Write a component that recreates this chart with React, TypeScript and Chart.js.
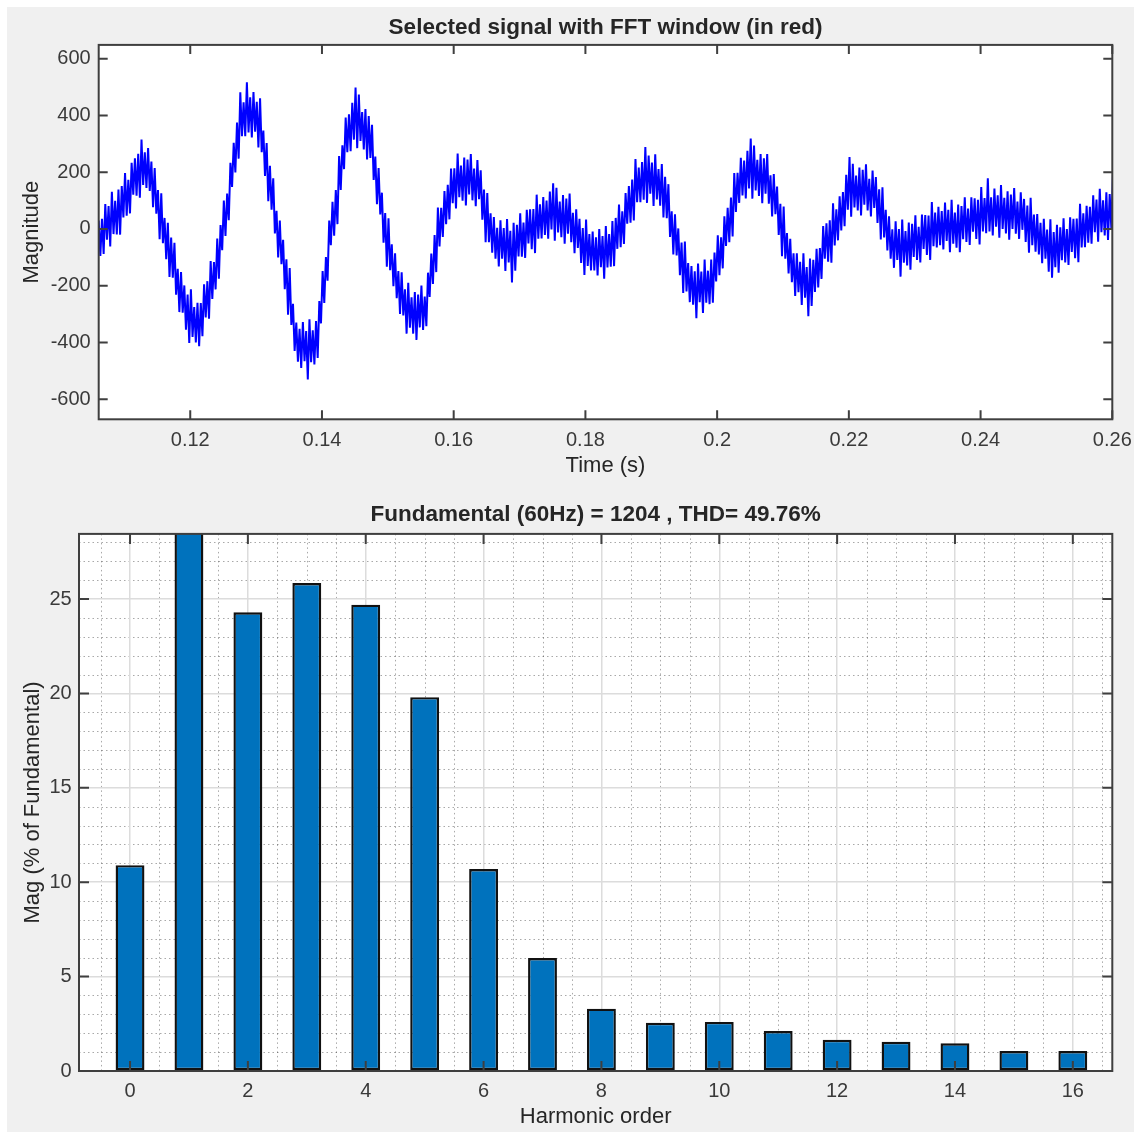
import { useEffect, useRef } from 'react';
import { Chart, registerables } from 'chart.js';

Chart.register(...registerables);

// ---------- Top chart: selected signal ----------
const signalStartTime = 0.1061; // s
const signalSampleStep = 0.00025; // s
const signalValues = [
  30, -95, 36, -88, 88, -38, 81, -62, 131, -18, 99, -19, 139, -20, 151, 41, 197, 47, 173, 55,
  233, 121, 249, 117, 265, 110, 315, 155, 270, 145, 285, 134, 238, 77, 215, 54, 137, -36, 126, -50,
  39, -107, 22, -169, -30, -172, -49, -232, -140, -293, -152, -295, -199, -355, -231, -402, -213, -381, -275, -400,
  -260, -413, -261, -378, -195, -312, -184, -316, -113, -247, -117, -213, -34, -175, 14, -75, 100, -25, 125, 31,
  233, 148, 304, 199, 375, 248, 482, 327, 447, 327, 517, 340, 464, 323, 483, 343, 448, 287, 461, 271,
  347, 187, 303, 98, 223, 68, 179, -16, 64, -100, 30, -124, -38, -212, -107, -302, -138, -338, -264, -430,
  -330, -468, -352, -490, -328, -466, -360, -531, -318, -470, -357, -478, -325, -455, -254, -333, -148, -261, -99, -182,
  30, -57, 96, -24, 137, 17, 257, 138, 295, 211, 393, 271, 404, 274, 445, 315, 499, 285, 474, 310,
  412, 280, 423, 245, 398, 250, 367, 173, 255, 87, 215, 51, 128, -48, 56, -133, 38, -145, -54, -202,
  -86, -244, -148, -300, -153, -305, -213, -369, -190, -348, -241, -369, -222, -391, -231, -347, -199, -356, -238, -343,
  -154, -240, -87, -194, -21, -152, 76, -62, 75, -28, 134, 17, 156, 34, 213, 91, 214, 72, 266, 112,
  224, 100, 252, 83, 245, 122, 264, 101, 213, 80, 243, 105, 207, 33, 139, -47, 127, -47, 55, -84,
  42, -105, 4, -132, 31, -105, 3, -148, 35, -118, -6, -189, 22, -147, 15, -97, 55, -98, 23, -102,
  68, -51, 69, -71, 70, -85, 121, -34, 87, -33, 113, -21, 100, -34, 132, -2, 161, -41, 145, -12,
  97, -29, 120, -52, 107, -17, 125, -47, 57, -85, 69, -67, 36, -120, 3, -162, 33, -130, -18, -146,
  -9, -146, -29, -164, 0, -135, -25, -175, 10, -136, -18, -133, 28, -131, 39, -70, 86, -64, 62, -53,
  127, 19, 151, 22, 174, 30, 247, 94, 217, 94, 236, 103, 289, 92, 259, 124, 234, 81, 263, 104,
  211, 82, 229, 41, 184, 38, 158, -28, 62, -90, 52, -93, 2, -163, -48, -226, -44, -220, -120, -258,
  -131, -267, -149, -315, -122, -258, -150, -296, -108, -260, -147, -265, -108, -260, -83, -185, -22, -163, -29, -139,
  45, -60, 75, -47, 111, -26, 197, 60, 198, 92, 251, 118, 241, 108, 276, 143, 319, 107, 294, 136,
  244, 116, 264, 91, 249, 124, 264, 89, 189, 44, 194, 52, 150, -21, 89, -96, 79, -105, -14, -157,
  -35, -188, -86, -236, -86, -223, -116, -268, -86, -242, -134, -308, -104, -271, -109, -222, -70, -206, -67, -176,
  10, -105, 20, -115, 31, -119, 91, -58, 69, -40, 115, -5, 130, 10, 191, 68, 254, 43, 230, 76,
  188, 65, 217, 48, 209, 86, 228, 65, 177, 44, 206, 74, 183, 21, 140, -37, 147, -30, 68, -76,
  45, -105, -1, -137, 27, -109, 0, -168, 33, -119, -7, -129, 23, -144, 18, -99, 48, -109, 8, -118,
  51, -70, 49, -92, 47, -109, 95, -61, 58, -65, 78, -57, 63, -72, 93, -42, 68, -82, 103, -52,
  58, -66, 86, -82, 81, -36, 112, -46, 72, -56, 112, -10, 108, -35, 103, -55, 148, -9, 109, -15,
  179, -9, 112, -23, 143, 8, 119, -31, 155, 0, 110, -16, 133, -38, 121, 0, 144, -17, 97, -35,
  129, -3, 106, -46, 83, -84, 110, -57, 51, -80, 53, -90, 22, -121, 36, -105, -2, -151, 34, -172,
  -11, -135, 15, -154, 6, -110, 38, -118, 0, -127, 41, -81, 36, -103, 37, -117, 89, -65, 55, -64,
  82, -48, 78, -52, 119, -11, 104, -45, 142, -11, 101, -23, 129, -39, 123, 4, 190,
];
const timeMin = 0.1061;
const timeMax = 0.26;
const timeTicks = [0.12, 0.14, 0.16, 0.18, 0.2, 0.22, 0.24, 0.26];
const magnitudeMin = -671;
const magnitudeMax = 649;
const magnitudeTicks = [-600, -400, -200, 0, 200, 400, 600];

// ---------- Bottom chart: harmonic spectrum ----------
const harmonicOrders = [0, 1, 2, 3, 4, 5, 6, 7, 8, 9, 10, 11, 12, 13, 14, 15, 16];
const harmonicMagnitudes = [
  10.9, 100, 24.3, 25.85, 24.7, 19.8, 10.7, 5.98, 3.3, 2.55, 2.6, 2.12, 1.65, 1.55, 1.47, 1.06, 1.06,
];
const orderTicks = [0, 2, 4, 6, 8, 10, 12, 14, 16];
const orderMin = -0.866;
const orderMax = 16.67;
const percentTicks = [0, 5, 10, 15, 20, 25];
const percentMin = 0;
const percentMax = 28.45;

const FONT = '"Liberation Sans", Arial, Helvetica, sans-serif';
const TEXT = '#262626';
const TICK_TEXT = '#3a3a3a';
const AXIS = '#3f3f3f';

const matlabAxes = {
  id: 'matlabAxes',
  beforeDraw(chart: any, _args: any, opts: any) {
    const { ctx, chartArea: a, scales } = chart;
    ctx.save();
    ctx.fillStyle = '#ffffff';
    ctx.fillRect(a.left, a.top, a.right - a.left, a.bottom - a.top);
    if (opts.minorX) {
      const xs = scales.x;
      ctx.strokeStyle = 'rgba(40,40,40,0.4)';
      ctx.lineWidth = 1;
      ctx.setLineDash([1.5, 3]);
      const start = Math.ceil(xs.min / opts.minorX) * opts.minorX;
      for (let v = start; v <= xs.max + 1e-9; v += opts.minorX) {
        const r = Math.round(v * 1000) / 1000;
        if (opts.majorX && Math.abs(r / opts.majorX - Math.round(r / opts.majorX)) < 1e-6) continue;
        const px = Math.round(xs.getPixelForValue(r)) + 0.5;
        ctx.beginPath();
        ctx.moveTo(px, a.top);
        ctx.lineTo(px, a.bottom);
        ctx.stroke();
      }
    }
    if (opts.minorY) {
      const ys = scales.y;
      ctx.strokeStyle = 'rgba(40,40,40,0.4)';
      ctx.lineWidth = 1;
      ctx.setLineDash([1.5, 3]);
      const start = Math.ceil(ys.min / opts.minorY) * opts.minorY;
      for (let v = start; v <= ys.max + 1e-9; v += opts.minorY) {
        const r = Math.round(v * 1000) / 1000;
        if (opts.majorY && Math.abs(r / opts.majorY - Math.round(r / opts.majorY)) < 1e-6) continue;
        const py = Math.round(ys.getPixelForValue(r)) + 0.5;
        ctx.beginPath();
        ctx.moveTo(a.left, py);
        ctx.lineTo(a.right, py);
        ctx.stroke();
      }
    }
    ctx.restore();
  },
  afterDatasetsDraw(chart: any, _args: any, opts: any) {
    const { ctx, chartArea: a, scales } = chart;
    const len = opts.tickLength || 9;
    ctx.save();
    ctx.strokeStyle = AXIS;
    ctx.lineWidth = 2;
    ctx.setLineDash([]);
    ctx.beginPath();
    for (const t of scales.x.ticks) {
      const px = scales.x.getPixelForValue(t.value);
      ctx.moveTo(px, a.bottom);
      ctx.lineTo(px, a.bottom - len);
      ctx.moveTo(px, a.top);
      ctx.lineTo(px, a.top + len);
    }
    for (const t of scales.y.ticks) {
      const py = scales.y.getPixelForValue(t.value);
      ctx.moveTo(a.left, py);
      ctx.lineTo(a.left + len, py);
      ctx.moveTo(a.right, py);
      ctx.lineTo(a.right - len, py);
    }
    ctx.stroke();
    ctx.strokeRect(a.left, a.top, a.right - a.left, a.bottom - a.top);
    ctx.restore();
  },
};

function fixWidth(w: number) {
  return (s: any) => {
    s.width = w;
    s.paddingTop = 0;
    s.paddingBottom = 0;
    s.paddingLeft = 0;
    s.paddingRight = 0;
  };
}

function fixHeight(h: number) {
  return (s: any) => {
    s.height = h;
    s.paddingTop = 0;
    s.paddingBottom = 0;
    s.paddingLeft = 0;
    s.paddingRight = 0;
  };
}

function makeSignalConfig(): any {
  const points = signalValues.map((v, i) => ({ x: signalStartTime + i * signalSampleStep, y: v }));
  return {
    type: 'line',
    data: {
      datasets: [
        {
          data: points,
          borderColor: '#0000ff',
          borderWidth: 2,
          pointRadius: 0,
          tension: 0,
          fill: false,
          clip: 0,
        },
      ],
    },
    options: {
      animation: false,
      responsive: false,
      devicePixelRatio: 1,
      events: [],
      layout: { padding: { left: 0, right: 21.7, top: 0, bottom: 0 } },
      plugins: {
        legend: { display: false },
        tooltip: { enabled: false },
        title: {
          display: true,
          fullSize: false,
          text: 'Selected signal with FFT window (in red)',
          color: TEXT,
          font: { family: FONT, size: 22.5, weight: 'bold', lineHeight: 1.2 },
          padding: { top: 13.8, bottom: 4.1 },
        },
        matlabAxes: { tickLength: 9 },
      },
      scales: {
        x: {
          type: 'linear',
          min: timeMin,
          max: timeMax,
          afterBuildTicks: (s: any) => {
            s.ticks = timeTicks.map((v) => ({ value: v }));
          },
          afterFit: fixHeight(72.7),
          grid: { display: false, drawTicks: false, tickLength: 0 },
          border: { display: false },
          ticks: {
            color: TICK_TEXT,
            font: { family: FONT, size: 20 },
            padding: 9.5,
            maxRotation: 0,
            autoSkip: false,
            callback: (v: any) => String(v),
          },
          title: {
            display: true,
            text: 'Time (s)',
            color: TEXT,
            font: { family: FONT, size: 22 },
            padding: { top: 0, bottom: 12.8 },
          },
        },
        y: {
          type: 'linear',
          min: magnitudeMin,
          max: magnitudeMax,
          afterBuildTicks: (s: any) => {
            s.ticks = magnitudeTicks.map((v) => ({ value: v }));
          },
          afterFit: fixWidth(98.7),
          grid: { display: false, drawTicks: false, tickLength: 0 },
          border: { display: false },
          ticks: {
            color: TICK_TEXT,
            font: { family: FONT, size: 20 },
            padding: 8,
            autoSkip: false,
            callback: (v: any) => String(v),
          },
          title: {
            display: true,
            text: 'Magnitude',
            color: TEXT,
            font: { family: FONT, size: 22 },
            padding: { top: 18.8, bottom: 0 },
          },
        },
      },
    },
    plugins: [matlabAxes],
  };
}

function makeSpectrumConfig(): any {
  const bars = harmonicOrders.map((o, i) => ({ x: o, y: harmonicMagnitudes[i] }));
  return {
    type: 'bar',
    data: {
      datasets: [
        {
          data: bars,
          backgroundColor: '#0072bd',
          borderColor: '#111111',
          borderWidth: 2.4,
          borderSkipped: false,
          categoryPercentage: 1,
          barPercentage: 0.49,
          clip: 0,
        },
      ],
    },
    options: {
      animation: false,
      responsive: false,
      devicePixelRatio: 1,
      events: [],
      layout: { padding: { left: 0, right: 21.7, top: 0, bottom: 0 } },
      plugins: {
        legend: { display: false },
        tooltip: { enabled: false },
        title: {
          display: true,
          fullSize: false,
          text: 'Fundamental (60Hz) = 1204 , THD= 49.76%',
          color: TEXT,
          font: { family: FONT, size: 22.5, weight: 'bold', lineHeight: 1.2 },
          padding: { top: 8.8, bottom: 6.1 },
        },
        matlabAxes: { tickLength: 10, minorX: 0.5, majorX: 2, minorY: 1, majorY: 5 },
      },
      scales: {
        x: {
          type: 'linear',
          min: orderMin,
          max: orderMax,
          offset: false,
          afterBuildTicks: (s: any) => {
            s.ticks = orderTicks.map((v) => ({ value: v }));
          },
          afterFit: fixHeight(61),
          grid: { display: true, color: '#dcdcdc', lineWidth: 1.5, drawTicks: false, tickLength: 0, offset: false },
          border: { display: false },
          ticks: {
            color: TICK_TEXT,
            font: { family: FONT, size: 20 },
            padding: 8.5,
            maxRotation: 0,
            autoSkip: false,
            callback: (v: any) => String(v),
          },
          title: {
            display: true,
            text: 'Harmonic order',
            color: TEXT,
            font: { family: FONT, size: 22 },
            padding: { top: 0, bottom: 1.8 },
          },
        },
        y: {
          type: 'linear',
          min: percentMin,
          max: percentMax,
          afterBuildTicks: (s: any) => {
            s.ticks = percentTicks.map((v) => ({ value: v }));
          },
          afterFit: fixWidth(79),
          grid: { display: true, color: '#dcdcdc', lineWidth: 1.5, drawTicks: false, tickLength: 0 },
          border: { display: false },
          ticks: {
            color: TICK_TEXT,
            font: { family: FONT, size: 20 },
            padding: 7.3,
            autoSkip: false,
            callback: (v: any) => String(v),
          },
          title: {
            display: true,
            text: 'Mag (% of Fundamental)',
            color: TEXT,
            font: { family: FONT, size: 22 },
            padding: { top: 19.8, bottom: 0 },
          },
        },
      },
    },
    plugins: [matlabAxes],
  };
}

export default function App() {
  const topRef = useRef<HTMLCanvasElement>(null);
  const bottomRef = useRef<HTMLCanvasElement>(null);

  useEffect(() => {
    const top = new Chart(topRef.current as HTMLCanvasElement, makeSignalConfig());
    const bottom = new Chart(bottomRef.current as HTMLCanvasElement, makeSpectrumConfig());
    return () => {
      top.destroy();
      bottom.destroy();
    };
  }, []);

  return (
    <div style={{ position: 'absolute', left: 0, top: 0, width: 1134, height: 1132, background: '#ffffff', overflow: 'hidden' }}>
      <div style={{ position: 'absolute', left: 7, top: 7, width: 1127, height: 1125, background: '#f0f0f0' }} />
      <canvas
        ref={topRef}
        width={1134}
        height={492}
        style={{ position: 'absolute', left: 0, top: 0, width: 1134, height: 492 }}
      />
      <canvas
        ref={bottomRef}
        width={1134}
        height={640}
        style={{ position: 'absolute', left: 0, top: 492, width: 1134, height: 640 }}
      />
    </div>
  );
}
